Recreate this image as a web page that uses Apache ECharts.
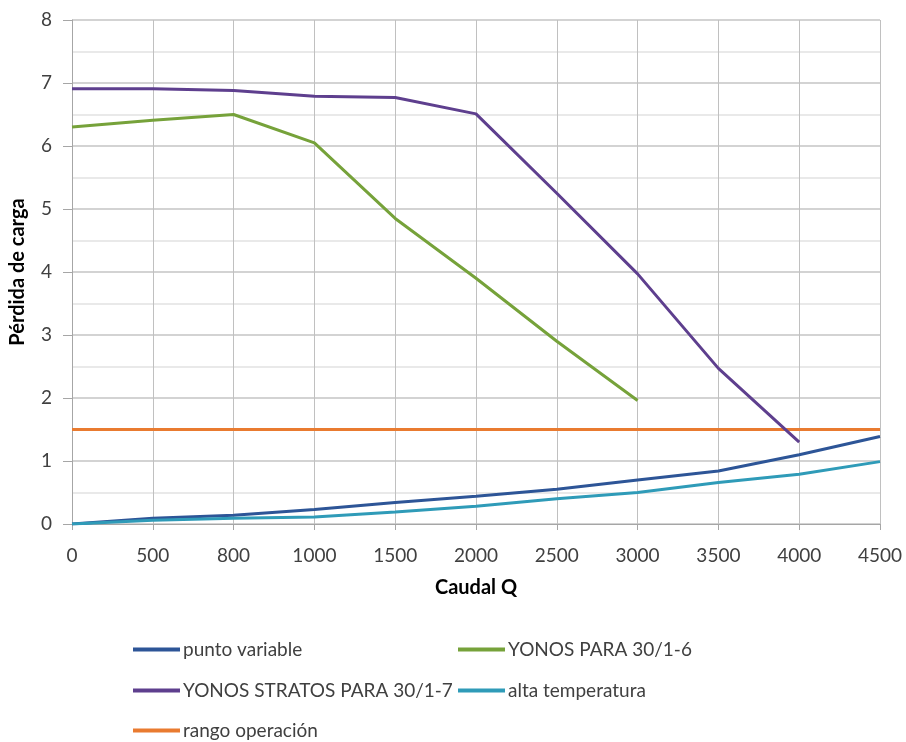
<!DOCTYPE html>
<html><head><meta charset="utf-8">
<script src="https://cdn.jsdelivr.net/npm/echarts@6/dist/echarts.min.js"></script>
<style>html,body{margin:0;padding:0;background:#fff}#c{width:906px;height:742px}</style>
</head><body><div id="c"></div>
<script>
const categories = ['0','500','800','1000','1500','2000','2500','3000','3500','4000','4500'];
const puntoVariable = [0, 0.09, 0.14, 0.23, 0.34, 0.44, 0.55, 0.70, 0.84, 1.10, 1.39];
const yonosPara = [6.30, 6.41, 6.50, 6.05, 4.85, 3.90, 2.90, 1.96, null, null, null];
const yonosStratos = [6.91, 6.91, 6.88, 6.79, 6.77, 6.51, 5.25, 3.97, 2.47, 1.30, null];
const altaTemperatura = [0, 0.06, 0.09, 0.11, 0.19, 0.28, 0.40, 0.50, 0.66, 0.79, 0.99];
const rangoOperacion = [1.5, 1.5, 1.5, 1.5, 1.5, 1.5, 1.5, 1.5, 1.5, 1.5, 1.5];
const yTicks = [0, 8, 1];

const font = 'Lato, "Open Sans", sans-serif';
const txt = '#404040';
const names = ['punto variable','YONOS PARA 30/1-6','YONOS STRATOS PARA 30/1-7','alta temperatura','rango operación'];
const colors = ['#2D5597','#76A23A','#5E3F8E','#2F9BB8','#E97B30'];
const dataSets = [puntoVariable, yonosPara, yonosStratos, altaTemperatura, rangoOperacion];
const legendPos = [[133,640],[458,640],[133,681],[458,681],[133,721]];

const chart = echarts.init(document.getElementById('c'), null, {renderer:'canvas'});
chart.setOption({
  animation:false,
  backgroundColor:'#fff',
  textStyle:{fontFamily:font},
  grid:{left:72,right:26,top:20,bottom:218,containLabel:false},
  legend: names.map((n,i)=>({
    data:[n], left:legendPos[i][0], top:legendPos[i][1], padding:0,
    itemWidth:47, itemHeight:4, itemGap:4,
    icon:'rect', selectedMode:false,
    textStyle:{fontFamily:font,fontSize:19,color:txt,padding:[0,0,0,-2]}
  })),
  xAxis:{
    type:'category', data:categories, boundaryGap:false,
    name:'Caudal Q', nameLocation:'middle', nameGap:54,
    nameTextStyle:{fontFamily:font,fontSize:20,fontWeight:'bold',color:'#000'},
    axisLine:{lineStyle:{color:'#a6a6a6',width:1}},
    axisTick:{show:true,length:6,alignWithLabel:true,lineStyle:{color:'#a6a6a6'}},
    axisLabel:{fontFamily:font,fontSize:19,color:txt,margin:22,interval:0},
    splitLine:{show:true,lineStyle:{color:'#c0c0c0',width:1}}
  },
  yAxis:{
    type:'value', min:yTicks[0], max:yTicks[1], interval:yTicks[2],
    name:'Pérdida de carga', nameLocation:'middle', nameGap:44, nameRotate:90,
    nameTextStyle:{fontFamily:font,fontSize:20,fontWeight:'bold',color:'#000'},
    axisLine:{show:true,lineStyle:{color:'#a6a6a6',width:1}},
    axisTick:{show:true,length:9,lineStyle:{color:'#a6a6a6'}},
    axisLabel:{fontFamily:font,fontSize:19,color:txt,margin:20},
    splitLine:{show:true,lineStyle:{color:'#c4c4c4',width:1.5}},
    minorTick:{show:false,splitNumber:2},
    minorSplitLine:{show:true,lineStyle:{color:'#e2e2e2',width:1.5}}
  },
  series: names.map((n,i)=>({
    name:n, type:'line', data:dataSets[i], showSymbol:false, symbol:'none',
    lineStyle:{color:colors[i],width:3}, itemStyle:{color:colors[i]},
    connectNulls:false, z: i===4?1:2
  }))
});
</script></body></html>
